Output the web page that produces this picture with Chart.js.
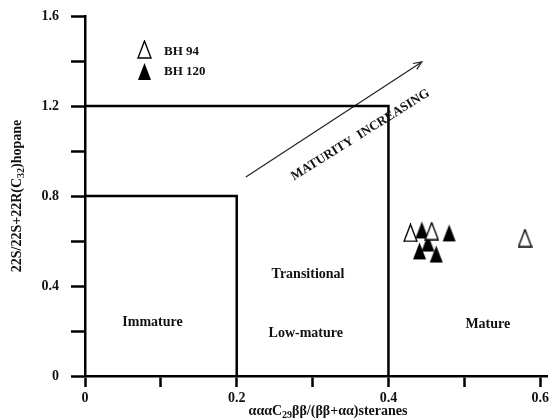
<!DOCTYPE html>
<html>
<head>
<meta charset="utf-8">
<script src="https://cdn.jsdelivr.net/npm/chart.js@4/dist/chart.umd.min.js"></script>
<style>
  html, body { margin: 0; padding: 0; background: #fff; }
  #wrap { width: 556px; height: 420px; }
</style>
</head>
<body>
<div id="wrap"><canvas id="c" width="556" height="420"></canvas></div>
<script>
// values
const bh94X = [0.429, 0.457, 0.580];
const bh94Y = [0.636, 0.644, 0.613];
const bh120X = [0.444, 0.480, 0.441, 0.463, 0.452];
const bh120Y = [0.649, 0.636, 0.556, 0.542, 0.591];

// zone boundaries
const immatureX = [0, 0.2, 0.2];
const immatureY = [0.8, 0.8, 0];
const transitionalX = [0, 0.4, 0.4];
const transitionalY = [1.2, 1.2, 0];

// maturity arrow
const arrowX = [0.212, 0.444];
const arrowY = [0.884, 1.396];

// zone names
const zoneNames = ["Immature", "Transitional", "Low-mature", "Mature"];
const zoneX = [0.089, 0.294, 0.291, 0.531];
const zoneY = [0.24, 0.453, 0.191, 0.231];

// tick labels that are printed
const xTickLabels = [0, 0.2, 0.4, 0.6];
const yTickLabels = [0, 0.4, 0.8, 1.2, 1.6];

const pts = (xs, ys) => xs.map((x, i) => ({ x: x, y: ys[i] }));
const FONT = "'Liberation Serif', 'Times New Roman', serif";
const INK = "#111";
const noPad = () => ({ left: 0, top: 0, right: 0, bottom: 0 });

function triangle(filled) {
  const c = document.createElement("canvas");
  c.width = 15; c.height = 19;
  const g = c.getContext("2d");
  g.beginPath();
  g.moveTo(7.5, 1);
  g.lineTo(14, 18);
  g.lineTo(1, 18);
  g.closePath();
  if (filled) {
    g.fillStyle = "#000";
    g.fill();
  } else {
    g.fillStyle = "#fff";
    g.fill();
    g.lineWidth = 1.4;
    g.strokeStyle = "#000";
    g.stroke();
  }
  return c;
}
const openTri = triangle(false);
const fullTri = triangle(true);

// text with subscripts: parts = [[text, isSub], ...]
function richText(ctx, parts, x, y, size) {
  const sub = Math.round(size * 0.7);
  let w = 0;
  parts.forEach(p => {
    ctx.font = "bold " + (p[1] ? sub : size) + "px " + FONT;
    w += ctx.measureText(p[0]).width;
  });
  let cx = x - w / 2;
  ctx.textAlign = "left";
  ctx.textBaseline = "middle";
  parts.forEach(p => {
    ctx.font = "bold " + (p[1] ? sub : size) + "px " + FONT;
    ctx.fillText(p[0], cx, p[1] ? y + 4 : y);
    cx += ctx.measureText(p[0]).width;
  });
}

const extras = {
  id: "extras",
  afterDatasetsDraw(chart) {
    const ctx = chart.ctx;
    const xs = chart.scales.x, ys = chart.scales.y;
    ctx.save();
    ctx.fillStyle = INK;

    // axis titles
    richText(ctx, [["\u03b1\u03b1\u03b1C", false], ["29", true], ["\u03b2\u03b2/(\u03b2\u03b2+\u03b1\u03b1)steranes", false]], 328, 411, 14);
    ctx.save();
    ctx.translate(17, (chart.chartArea.top + chart.chartArea.bottom) / 2);
    ctx.rotate(-Math.PI / 2);
    richText(ctx, [["22S/22S+22R(C", false], ["32", true], [")hopane", false]], 0, 0, 14);
    ctx.restore();

    // zone names
    ctx.font = "bold 14px " + FONT;
    ctx.textAlign = "center";
    ctx.textBaseline = "middle";
    zoneNames.forEach((n, i) => {
      ctx.fillText(n, xs.getPixelForValue(zoneX[i]), ys.getPixelForValue(zoneY[i]));
    });

    // arrow head + label
    const x0 = xs.getPixelForValue(arrowX[0]), y0 = ys.getPixelForValue(arrowY[0]);
    const x1 = xs.getPixelForValue(arrowX[1]), y1 = ys.getPixelForValue(arrowY[1]);
    const a = Math.atan2(y1 - y0, x1 - x0);
    ctx.strokeStyle = "#222";
    ctx.lineWidth = 1.2;
    ctx.beginPath();
    ctx.moveTo(x1 - 9 * Math.cos(a - 0.4), y1 - 9 * Math.sin(a - 0.4));
    ctx.lineTo(x1, y1);
    ctx.lineTo(x1 - 9 * Math.cos(a + 0.4), y1 - 9 * Math.sin(a + 0.4));
    ctx.stroke();

    ctx.save();
    ctx.translate(xs.getPixelForValue(0.363), ys.getPixelForValue(1.071));
    ctx.rotate(a + 0.02);
    ctx.font = "bold 13px " + FONT;
    ctx.fillText("MATURITY  INCREASING", 0, 0);
    ctx.restore();

    // legend
    ctx.drawImage(openTri, 137, 40);
    ctx.drawImage(fullTri, 137, 62);
    ctx.font = "bold 13px " + FONT;
    ctx.textAlign = "left";
    ctx.fillText("BH 94", 164, 52);
    ctx.fillText("BH 120", 164, 72);

    ctx.restore();
  }
};

const labelFont = { family: FONT, size: 14, weight: "bold" };

new Chart(document.getElementById("c"), {
  type: "scatter",
  data: {
    datasets: [
      { label: "BH 94", data: pts(bh94X, bh94Y), pointStyle: openTri, pointRadius: 8 },
      { label: "BH 120", data: pts(bh120X, bh120Y), pointStyle: fullTri, pointRadius: 8 },
      { label: "immature", data: pts(immatureX, immatureY), showLine: true, borderColor: "#000", borderWidth: 2.5, pointRadius: 0, fill: false },
      { label: "transitional", data: pts(transitionalX, transitionalY), showLine: true, borderColor: "#000", borderWidth: 2.5, pointRadius: 0, fill: false },
      { label: "arrow", data: pts(arrowX, arrowY), showLine: true, borderColor: "#222", borderWidth: 1.2, pointRadius: 0, fill: false }
    ]
  },
  options: {
    responsive: false,
    animation: false,
    layout: { padding: { top: 16, left: 0, right: 0, bottom: 0 } },
    plugins: { legend: { display: false }, tooltip: { enabled: false } },
    scales: {
      x: {
        type: "linear",
        min: 0,
        max: 0.609,
        afterFit: s => { s.height = 44; s.getPadding = noPad; },
        border: { color: "#000", width: 2.5 },
        grid: { drawOnChartArea: false, drawTicks: true, tickLength: 11, tickColor: "#000", tickWidth: 2.5 },
        ticks: {
          stepSize: 0.1,
          includeBounds: false,
          color: INK,
          font: labelFont,
          padding: 3,
          maxRotation: 0,
          autoSkip: false,
          callback: v => {
            const hit = xTickLabels.find(t => Math.abs(t - v) < 1e-6);
            return hit === undefined ? "" : String(hit);
          }
        }
      },
      y: {
        type: "linear",
        min: 0,
        max: 1.6,
        afterFit: s => { s.width = 85; s.getPadding = noPad; },
        border: { color: "#000", width: 2.5 },
        grid: { drawOnChartArea: false, drawTicks: true, tickLength: 14, tickColor: "#000", tickWidth: 2.5 },
        ticks: {
          stepSize: 0.2,
          color: INK,
          font: labelFont,
          padding: 12,
          autoSkip: false,
          callback: v => {
            const hit = yTickLabels.find(t => Math.abs(t - v) < 1e-6);
            return hit === undefined ? "" : String(hit);
          }
        }
      }
    }
  },
  plugins: [extras]
});
</script>
</body>
</html>
